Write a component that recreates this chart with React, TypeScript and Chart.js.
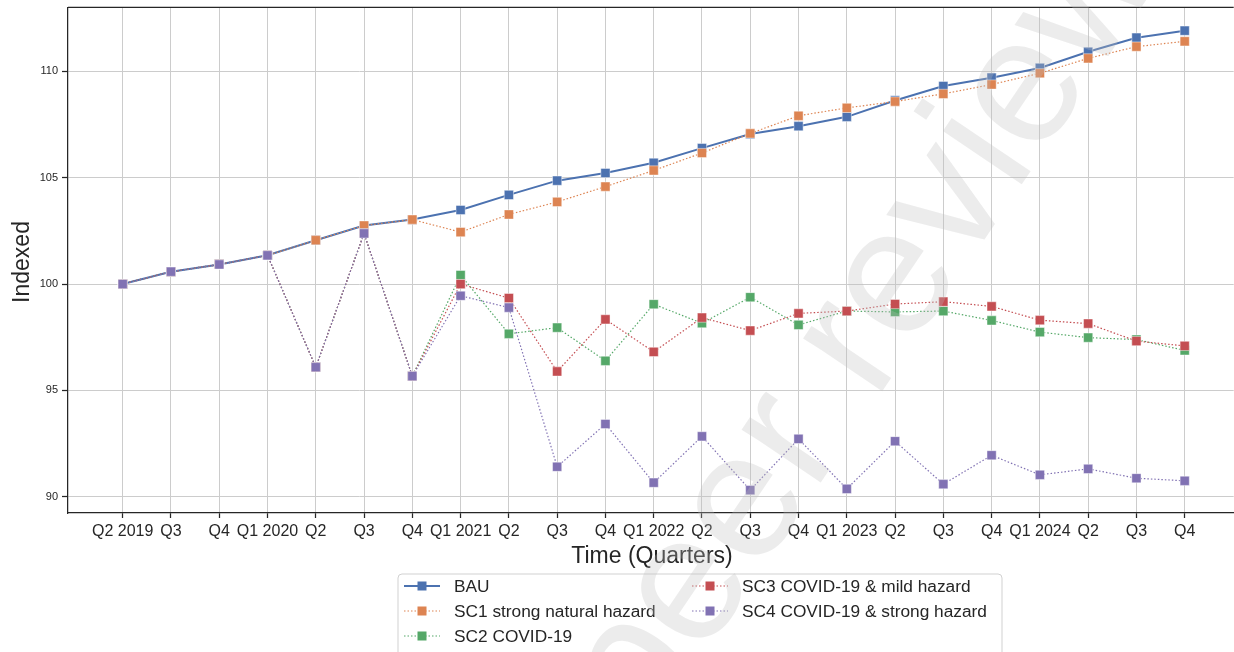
import React, { useEffect, useRef } from "react";
import { Chart, registerables } from "chart.js";

Chart.register(...registerables);

const quarterLabels = [
  "Q2 2019", "Q3", "Q4", "Q1 2020", "Q2", "Q3", "Q4", "Q1 2021", "Q2", "Q3", "Q4",
  "Q1 2022", "Q2", "Q3", "Q4", "Q1 2023", "Q2", "Q3", "Q4", "Q1 2024", "Q2", "Q3", "Q4",
];

const bau = [
  100.0, 100.58, 100.92, 101.35, 102.06, 102.75, 103.03, 103.48, 104.19, 104.86, 105.22,
  105.7, 106.39, 107.05, 107.42, 107.86, 108.63, 109.31, 109.7, 110.16, 110.92, 111.58, 111.91,
];
const sc1 = [
  100.0, 100.58, 100.92, 101.35, 102.06, 102.75, 103.03, 102.44, 103.27, 103.86, 104.58,
  105.34, 106.16, 107.08, 107.91, 108.28, 108.58, 108.94, 109.38, 109.91, 110.61, 111.16, 111.41,
];
const sc2 = [
  100.0, 100.58, 100.92, 101.35, 96.09, 102.38, 95.67, 100.42, 97.66, 97.95, 96.39,
  99.05, 98.16, 99.38, 98.08, 98.73, 98.69, 98.73, 98.29, 97.74, 97.48, 97.39, 96.88,
];
const sc3 = [
  100.0, 100.58, 100.92, 101.35, 96.09, 102.38, 95.67, 100.0, 99.34, 95.89, 98.34,
  96.81, 98.42, 97.81, 98.62, 98.73, 99.06, 99.17, 98.95, 98.3, 98.14, 97.32, 97.09,
];
const sc4 = [
  100.0, 100.58, 100.92, 101.35, 96.09, 102.38, 95.67, 99.45, 98.89, 91.41, 93.42,
  90.66, 92.84, 90.31, 92.72, 90.37, 92.61, 90.59, 91.95, 91.03, 91.31, 90.87, 90.75,
];

const seriesNames = [
  "BAU",
  "SC1 strong natural hazard",
  "SC2 COVID-19",
  "SC3 COVID-19 & mild hazard",
  "SC4 COVID-19 & strong hazard",
];
const seriesColors = ["#4C72B0", "#DD8452", "#55A868", "#C44E52", "#8172B3"];
const yTicks = [90, 95, 100, 105, 110];
const xTitle = "Time (Quarters)";
const yTitle = "Indexed";
const watermarkText = "peer review";

const FONT = '"Liberation Sans", Arial, Helvetica, sans-serif';
const INK = "#262626";
const DOT = [1.5, 2];
const PAGE_W = 1234;
const PAGE_H = 652;

const decorPlugin = {
  id: "decor",
  afterDraw(chart: any) {
    const ctx = chart.ctx as CanvasRenderingContext2D;
    const area = chart.chartArea;
    ctx.save();
    // top spine
    ctx.strokeStyle = INK;
    ctx.lineWidth = 1.25;
    ctx.beginPath();
    ctx.moveTo(area.left, area.top);
    ctx.lineTo(area.right, area.top);
    ctx.stroke();

    // axis titles
    ctx.fillStyle = INK;
    ctx.font = `23px ${FONT}`;
    ctx.textAlign = "center";
    ctx.textBaseline = "alphabetic";
    ctx.fillText(xTitle, 652, 563);
    ctx.save();
    ctx.translate(28.5, 262);
    ctx.rotate(-Math.PI / 2);
    ctx.fillText(yTitle, 0, 0);
    ctx.restore();

    // legend
    const boxX = 398;
    const boxY = 574;
    const boxW = 604;
    const boxH = 110;
    ctx.beginPath();
    const r = 4;
    ctx.moveTo(boxX + r, boxY);
    ctx.lineTo(boxX + boxW - r, boxY);
    ctx.quadraticCurveTo(boxX + boxW, boxY, boxX + boxW, boxY + r);
    ctx.lineTo(boxX + boxW, boxY + boxH);
    ctx.lineTo(boxX, boxY + boxH);
    ctx.lineTo(boxX, boxY + r);
    ctx.quadraticCurveTo(boxX, boxY, boxX + r, boxY);
    ctx.closePath();
    ctx.fillStyle = "rgba(255,255,255,0.8)";
    ctx.fill();
    ctx.strokeStyle = "rgba(204,204,204,0.9)";
    ctx.lineWidth = 1;
    ctx.stroke();

    const slots = [
      { x: 404, y: 586 },
      { x: 404, y: 611 },
      { x: 404, y: 636 },
      { x: 692, y: 586 },
      { x: 692, y: 611 },
    ];
    ctx.font = `17.3px ${FONT}`;
    ctx.textAlign = "left";
    ctx.textBaseline = "middle";
    seriesNames.forEach((name, i) => {
      const s = slots[i];
      const c = seriesColors[i];
      ctx.strokeStyle = c;
      ctx.lineWidth = i === 0 ? 2 : 1.2;
      ctx.setLineDash(i === 0 ? [] : DOT);
      ctx.beginPath();
      ctx.moveTo(s.x, s.y);
      ctx.lineTo(s.x + 36, s.y);
      ctx.stroke();
      ctx.setLineDash([]);
      ctx.fillStyle = c;
      ctx.fillRect(s.x + 18 - 4.5, s.y - 4.5, 9, 9);
      ctx.fillStyle = INK;
      ctx.fillText(name, s.x + 50, s.y + 1);
    });

    // watermark
    ctx.save();
    ctx.translate(906, 356);
    ctx.rotate((-56 * Math.PI) / 180);
    ctx.font = `180px ${FONT}`;
    ctx.textAlign = "center";
    ctx.textBaseline = "alphabetic";
    ctx.fillStyle = "rgba(190,190,190,0.29)";
    ctx.fillText(watermarkText, 0, 0);
    ctx.restore();

    ctx.restore();
  },
};

function buildChart(canvas: HTMLCanvasElement) {
  const all = [bau, sc1, sc2, sc3, sc4];
  const datasets = all.map((vals, i) => ({
    label: seriesNames[i],
    data: vals.map((v, k) => ({ x: k, y: v })),
    borderColor: seriesColors[i],
    backgroundColor: seriesColors[i],
    borderWidth: i === 0 ? 2 : 1.2,
    borderDash: i === 0 ? [] : DOT,
    pointStyle: "rect" as const,
    pointRadius: 6.5,
    pointBorderWidth: 0.8,
    pointBorderColor: "rgba(255,255,255,0.55)",
    pointBackgroundColor: seriesColors[i],
    tension: 0,
    fill: false,
    order: 5 - i,
  }));

  return new Chart(canvas, {
    type: "line",
    data: { datasets },
    plugins: [decorPlugin],
    options: {
      animation: false,
      responsive: false,
      devicePixelRatio: 1,
      layout: { padding: { top: 6, right: 0, bottom: 0, left: 0 } },
      plugins: { legend: { display: false }, tooltip: { enabled: false } },
      scales: {
        x: {
          type: "linear",
          min: -1.133,
          max: 23.015,
          afterBuildTicks: (scale: any) => {
            scale.ticks = quarterLabels.map((_, k) => ({ value: k }));
          },
          afterFit: (scale: any) => {
            scale.height = 139;
            scale.paddingLeft = 0;
            scale.paddingRight = 0;
          },
          ticks: {
            callback: (v: any) => quarterLabels[Number(v)] ?? "",
            autoSkip: false,
            maxRotation: 0,
            minRotation: 0,
            color: INK,
            padding: 4,
            font: { family: FONT, size: 16 },
          },
          grid: { color: "#cccccc", lineWidth: 1, tickColor: INK, tickLength: 5, tickWidth: 1.25 },
          border: { display: true, color: INK, width: 1.25 },
        },
        y: {
          type: "linear",
          min: 89.236,
          max: 113.01,
          afterBuildTicks: (scale: any) => {
            scale.ticks = yTicks.map((v) => ({ value: v }));
          },
          afterFit: (scale: any) => {
            scale.width = 68;
            scale.paddingTop = 0;
            scale.paddingBottom = 0;
          },
          ticks: {
            color: INK,
            padding: 4,
            font: { family: FONT, size: 11 },
          },
          grid: { color: "#cccccc", lineWidth: 1, tickColor: INK, tickLength: 6, tickWidth: 1.25 },
          border: { display: true, color: INK, width: 1.25 },
        },
      },
    },
  } as any);
}

export default function App() {
  const canvasRef = useRef<HTMLCanvasElement | null>(null);

  useEffect(() => {
    const canvas = canvasRef.current;
    if (!canvas) return;
    let width = PAGE_W;
    canvas.width = width;
    canvas.height = PAGE_H;
    canvas.style.width = `${width}px`;
    canvas.style.height = `${PAGE_H}px`;
    let chart: any = buildChart(canvas);
    for (let k = 0; k < 3; k++) {
      const diff = PAGE_W - chart.chartArea.right;
      if (Math.abs(diff) < 0.5) break;
      chart.destroy();
      width = Math.round(width + diff);
      canvas.width = width;
      canvas.height = PAGE_H;
      canvas.style.width = `${width}px`;
      canvas.style.height = `${PAGE_H}px`;
      chart = buildChart(canvas);
    }
    return () => chart.destroy();
  }, []);

  return (
    <div
      style={{
        position: "absolute",
        left: 0,
        top: 0,
        width: PAGE_W,
        height: PAGE_H,
        overflow: "hidden",
        background: "#fff",
      }}
    >
      <canvas ref={canvasRef} style={{ display: "block" }} />
    </div>
  );
}
